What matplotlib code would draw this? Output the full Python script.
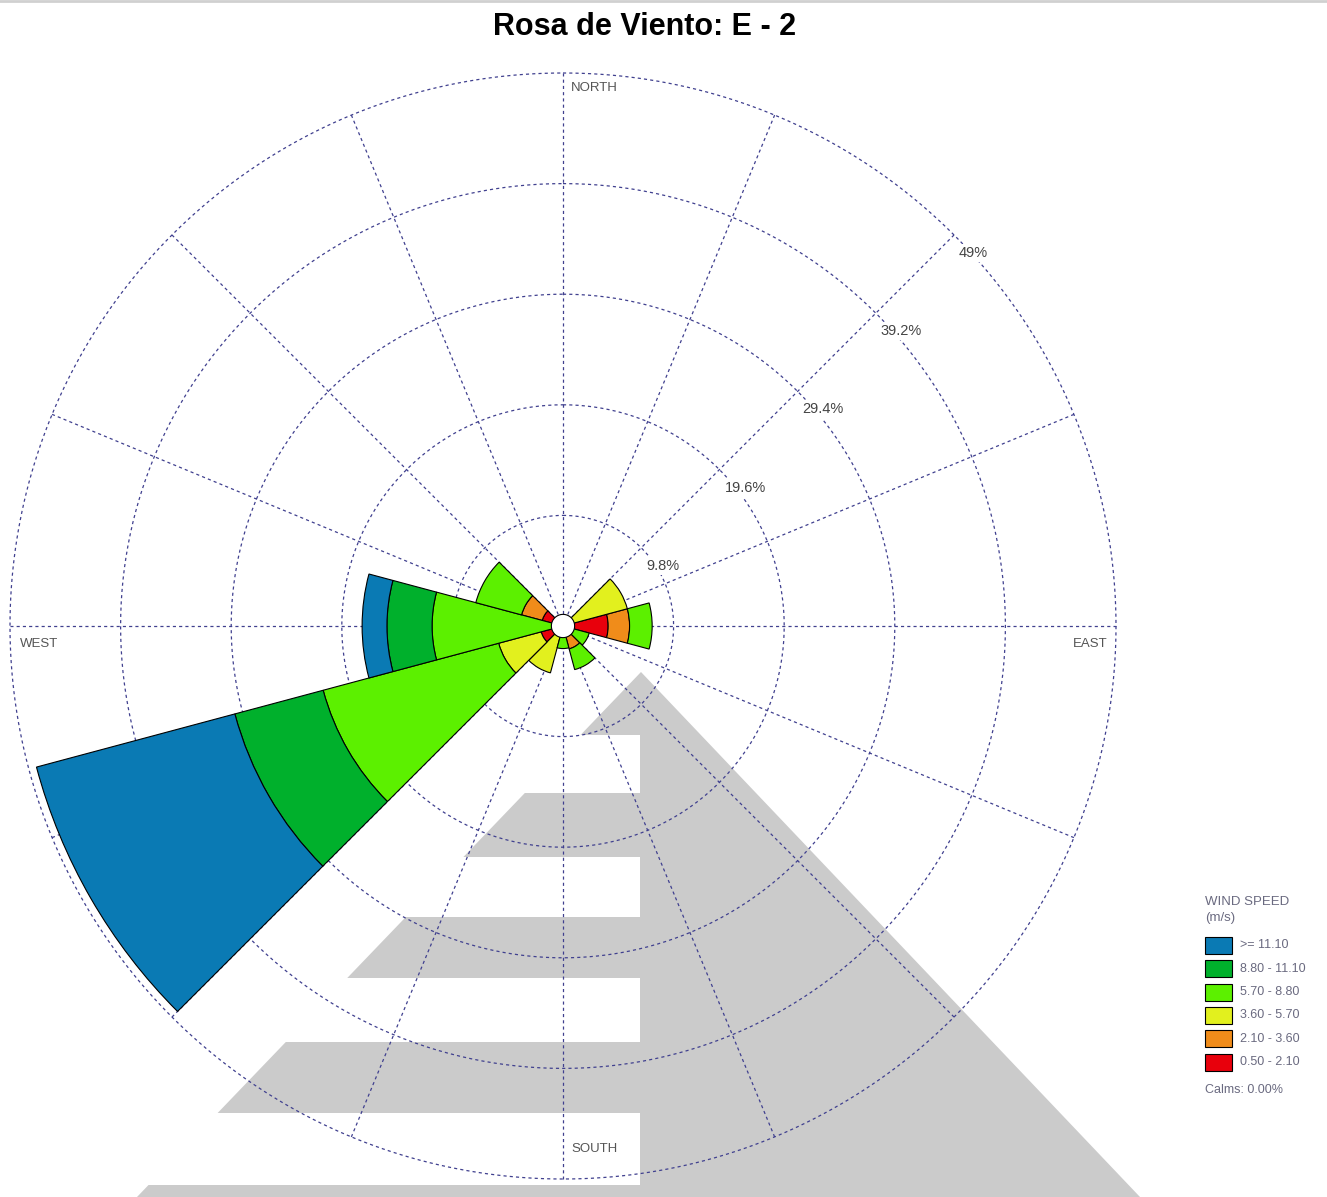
import numpy as np
import matplotlib
matplotlib.use('Agg')
import matplotlib.pyplot as plt
from matplotlib.patches import Polygon, Rectangle

plt.rcParams['font.family'] = ['Liberation Sans', 'DejaVu Sans']

# Datos de la rosa de viento (% de frecuencia por clase de velocidad)
direcciones = [0, 30, 60, 90, 120, 150, 180, 210, 240, 270, 300, 330]
clases = ['0.50 - 2.10', '2.10 - 3.60', '3.60 - 5.70', '5.70 - 8.80', '8.80 - 11.10', '>= 11.10']
rojo = [0, 0, 0.3, 4.0, 0.2, 0.5, 0.2, 0.3, 2.0, 0.3, 1.9, 0]
naranja = [0, 0, 0.4, 1.9, 0.3, 1.6, 0.2, 0.4, 0.0, 0.3, 1.9, 0]
amarillo = [0, 0, 5.2, 0.0, 0.4, 0.0, 0.3, 3.6, 3.9, 0.3, 0.0, 0]
verde_claro = [0, 0, 0.0, 2.0, 1.5, 1.9, 1.3, 0.0, 16.1, 10.7, 4.2, 0]
verde_oscuro = [0, 0, 0, 0, 0, 0, 0, 0, 8.1, 4.0, 0, 0]
azul = [0, 0, 0, 0, 0, 0, 0, 0, 18.2, 2.2, 0, 0]
colores = ['#e8000c', '#f08c1a', '#e2f01e', '#5cf000', '#00b02c', '#0a7ab4']

anillos = [9.8, 19.6, 29.4, 39.2, 49.0]
etiquetas_anillos = ['9.8%', '19.6%', '29.4%', '39.2%', '49%']
calmas = '0.00%'

W, H = 1327, 1197
fig = plt.figure(figsize=(W / 100, H / 100), dpi=100)

# fondo: marca de agua gris
bg = fig.add_axes([0, 0, 1, 1], zorder=-5)
bg.set_xlim(0, W)
bg.set_ylim(H, 0)
bg.axis('off')
gris = '#cbcbcb'
bg.add_patch(Polygon([(641, 672), (1140, 1197), (137, 1197)], closed=True, color=gris, lw=0))
for y0, y1 in [(735, 793), (857, 917), (978, 1042), (1113, 1185)]:
    bg.add_patch(Rectangle((100, y0), 540, y1 - y0, color='white', lw=0))
bg.plot([0, W], [1, 1], color='#d0d0d0', lw=2)

# rosa
ax = fig.add_axes([10 / W, 18 / H, 1106 / W, 1106 / H], projection='polar', zorder=1)
ax.set_facecolor('none')
ax.set_theta_zero_location('N')
ax.set_theta_direction(-1)
ax.grid(False)
ax.set_xticks([])
ax.set_yticks([])
ax.spines['polar'].set_visible(False)

color_red = '#40408f'
estilo = (0, (2.5, 2.5))
rmax = anillos[-1]
for a in np.arange(0, 360, 22.5):
    ax.plot([np.deg2rad(a)] * 2, [0, rmax], color=color_red, lw=0.9, ls=estilo, clip_on=False, zorder=1)
th = np.linspace(0, 2 * np.pi, 721)
for r in anillos:
    ax.plot(th, np.full_like(th, r), color=color_red, lw=0.9, ls=estilo, clip_on=False, zorder=1)

theta = np.deg2rad(direcciones)
ancho = np.deg2rad(30)
base = np.zeros(len(direcciones))
for vals, col in zip([rojo, naranja, amarillo, verde_claro, verde_oscuro, azul], colores):
    vals = np.array(vals)
    m = vals > 0
    ax.bar(theta[m], vals[m], width=ancho, bottom=base[m], color=col,
           edgecolor='black', linewidth=0.8, zorder=3)
    base += vals

ax.fill(th, np.full_like(th, 1.03), facecolor='white', edgecolor='black', lw=0.8, zorder=4)
ax.set_ylim(0, rmax)

for r, txt in zip(anillos, etiquetas_anillos):
    ax.annotate(txt, xy=(np.deg2rad(45), r), xytext=(5, -11), textcoords='offset pixels',
                ha='left', va='top', fontsize=10.5, color='#444444', zorder=5,
                bbox=dict(boxstyle='square,pad=0.15', fc='white', ec='none'))

col_dir = '#555555'
ax.annotate('NORTH', xy=(0, rmax), xytext=(8, -9), textcoords='offset pixels',
            ha='left', va='top', fontsize=9.5, color=col_dir)
ax.annotate('EAST', xy=(np.pi / 2, rmax), xytext=(-9, -12), textcoords='offset pixels',
            ha='right', va='top', fontsize=9.5, color=col_dir)
ax.annotate('WEST', xy=(3 * np.pi / 2, rmax), xytext=(10, -12), textcoords='offset pixels',
            ha='left', va='top', fontsize=9.5, color=col_dir)
ax.annotate('SOUTH', xy=(np.pi, rmax), xytext=(8, 24), textcoords='offset pixels',
            ha='left', va='bottom', fontsize=9.5, color=col_dir)

fig.text(645 / W, 1 - 35 / H, 'Rosa de Viento: E - 2', ha='center', va='baseline',
         fontsize=22, fontweight='bold')

# leyenda
col_txt = '#6a6a80'
bg.text(1205, 905, 'WIND SPEED', ha='left', va='baseline', fontsize=9.5, color=col_txt)
bg.text(1205, 921, '(m/s)', ha='left', va='baseline', fontsize=9.5, color=col_txt)
for i, (lab, col) in enumerate(zip(clases[::-1], colores[::-1])):
    y = 937 + i * 23.3
    bg.add_patch(Rectangle((1205, y), 27, 17, facecolor=col, edgecolor='black', lw=0.8))
    bg.text(1240, y + 8.5, lab, ha='left', va='center', fontsize=9, color=col_txt)
bg.text(1205, 1090, 'Calms: ' + calmas, ha='left', va='center', fontsize=9, color=col_txt)

fig.savefig('out.png', dpi=100)
